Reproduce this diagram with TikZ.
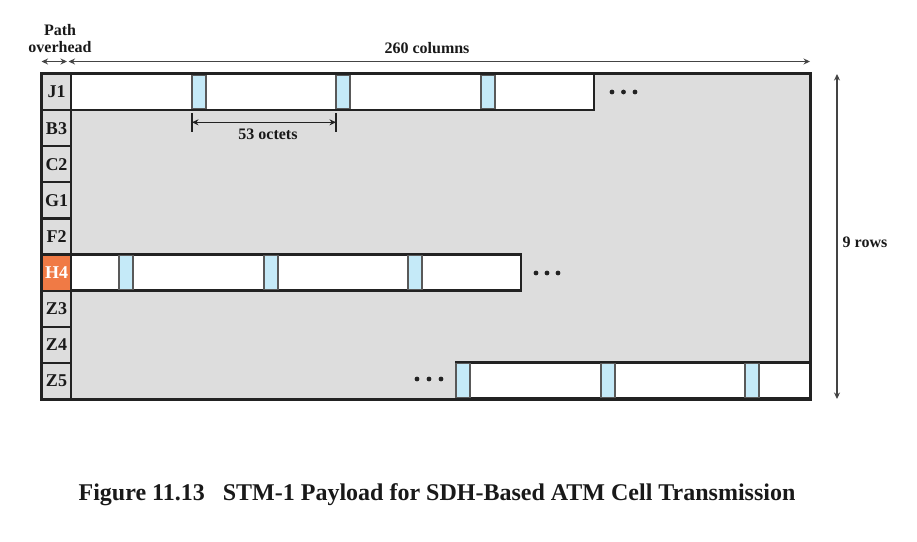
\documentclass[tikz,border=0pt]{standalone}
\usepackage{fontspec}
\setmainfont{Liberation Serif}
\usetikzlibrary{arrows.meta}
\definecolor{cellgray}{HTML}{DDDDDD}
\definecolor{hdrblue}{HTML}{C5EAF8}
\definecolor{ohorange}{HTML}{F07A45}
\definecolor{edge}{HTML}{222222}
\definecolor{dimgray}{HTML}{444444}
\begin{document}
\begin{tikzpicture}[x=1pt,y=-1pt,
  lbl/.style={font=\bfseries\fontsize{16}{16.5}\selectfont, text=black!90},
  frame/.style={draw=edge, line width=2.3pt, fill=cellgray, inner sep=0pt},
  ohcell/.style={draw=edge, line width=2.2pt, fill=cellgray, minimum width=29pt, minimum height=36.1pt, inner sep=0pt, font=\bfseries\fontsize{18}{18}\selectfont, text=black!90},
  ohspecial/.style={ohcell, draw=none, fill=ohorange, text=white},
  cellbox/.style={draw=edge, line width=2.5pt, fill=white, minimum height=36.1pt, inner sep=0pt},
  hdrcell/.style={draw=edge!75, line width=1.2pt, fill=hdrblue, minimum width=14pt, minimum height=33.6pt, inner sep=0pt},
  dotc/.style={circle, fill=edge, minimum size=4.8pt, inner sep=0pt},
  dimline/.style={draw=dimgray, line width=1.1pt},
  dimarrow/.style={dimline, {Stealth[length=6.5pt,width=6pt]}-{Stealth[length=6.5pt,width=6pt]}}
]
\useasboundingbox (0,0) rectangle (917,541);

% payload frame
\node[frame, minimum width=768pt, minimum height=325pt] (payload) at (426,236.5) {};

% J1 row cells
\node[cellbox, minimum width=523pt] (j1box) at (332.5,92.05) {};
\node[hdrcell] (ja) at (199,92.05) {};
\node[hdrcell] (jb) at (343,92.05) {};
\node[hdrcell] (jc) at (488,92.05) {};
\node[dotc] (jd1) at (612,92) {};
\node[dotc] (jd2) at (623.5,92) {};
\node[dotc] (jd3) at (635,92) {};

% H4 row cells
\node[cellbox, minimum width=450pt] (h4box) at (296,272.6) {};
\node[hdrcell] (ha) at (126,272.6) {};
\node[hdrcell] (hb) at (271,272.6) {};
\node[hdrcell] (hc) at (415,272.6) {};
\node[dotc] (hd1) at (536,273) {};
\node[dotc] (hd2) at (547,273) {};
\node[dotc] (hd3) at (558,273) {};

% Z5 row cells
\node[cellbox, minimum width=354pt] (z5box) at (633,380.4) {};
\node[hdrcell] (za) at (463,380.4) {};
\node[hdrcell] (zb) at (608,380.4) {};
\node[hdrcell] (zc) at (752,380.4) {};
\node[dotc] (zd1) at (417,379) {};
\node[dotc] (zd2) at (429,379) {};
\node[dotc] (zd3) at (441,379) {};

% path overhead column
\node[ohcell] (oh1) at (56.5,92.05) {J1};
\node[ohcell] (oh2) at (56.5,128.15) {B3};
\node[ohcell] (oh3) at (56.5,164.25) {C2};
\node[ohcell] (oh4) at (56.5,200.35) {G1};
\node[ohcell] (oh5) at (56.5,236.45) {F2};
\node[ohcell] (oh7) at (56.5,308.65) {Z3};
\node[ohcell] (oh8) at (56.5,344.75) {Z4};
\node[ohcell] (oh9) at (56.5,380.85) {Z5};
\node[ohspecial, minimum width=27pt, minimum height=34pt] (oh6) at (56.5,272.55) {H4};
\draw[draw=edge, line width=2.3pt] (payload.north west) rectangle (payload.south east);

% 53 octets dimension
\coordinate (ta1) at (192,113);
\coordinate (ta2) at (192,132);
\coordinate (tb1) at (336,113);
\coordinate (tb2) at (336,132);
\coordinate (oa) at (192,122.3);
\coordinate (ob) at (336,122.3);
\draw[dimline, draw=edge] (ta1) -- (ta2);
\draw[dimline, draw=edge] (tb1) -- (tb2);
\draw[dimarrow, draw=edge] (oa) -- (ob);
\node[lbl] (octets) at (268,134) {53 octets};

% top dimensions
\coordinate (po1) at (41.5,61.5);
\coordinate (po2) at (67,61.5);
\coordinate (co1) at (68.5,61.5);
\coordinate (co2) at (810,61.5);
\draw[dimarrow] (po1) -- (po2);
\draw[dimarrow] (co1) -- (co2);
\node[lbl, align=center] (pathoh) at (60,38.5) {Path\\overhead};
\node[lbl] (cols) at (427,48) {260 columns};

% right dimension
\coordinate (r1) at (837,74);
\coordinate (r2) at (837,399);
\draw[dimarrow] (r1) -- (r2);
\node[lbl] (rows) at (865,242) {9 rows};

% caption
\node[font=\bfseries\fontsize{24}{28}\selectfont, text=black!90] (caption) at (437,495)
  {Figure 11.13\hspace{0.75em}STM-1 Payload for SDH-Based ATM Cell Transmission};
\end{tikzpicture}
\end{document}
